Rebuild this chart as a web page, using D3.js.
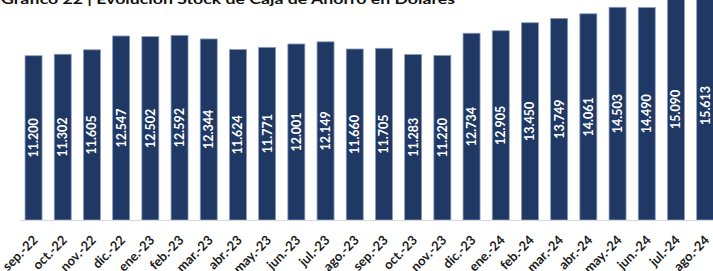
<!DOCTYPE html>
<html>
<head>
<meta charset="utf-8">
<script src="https://cdn.jsdelivr.net/npm/d3@7"></script>
<style>
  body { margin: 0; background: #fff; }
  svg { display: block; }
</style>
</head>
<body>
<svg width="713" height="271"></svg>
<script>
  const titleText = 'Gráfico 22 | Evolución Stock de Caja de Ahorro en Dólares';

  const months = [
    'sep.-22', 'oct.-22', 'nov.-22', 'dic.-22', 'ene.-23', 'feb.-23',
    'mar.-23', 'abr.-23', 'may.-23', 'jun.-23', 'jul.-23', 'ago.-23',
    'sep.-23', 'oct.-23', 'nov.-23', 'dic.-23', 'ene.-24', 'feb.-24',
    'mar.-24', 'abr.-24', 'may.-24', 'jun.-24', 'jul.-24', 'ago.-24'
  ];

  const stock = [
    11200, 11302, 11605, 12547, 12502, 12592,
    12344, 11624, 11771, 12001, 12149, 11660,
    11705, 11283, 11220, 12734, 12905, 13450,
    13749, 14061, 14503, 14490, 15090, 15613
  ];

  const svg = d3.select('svg');
  const baseY = 220;

  const locale = d3.formatLocale({ decimal: ',', thousands: '.', grouping: [3], currency: ['$', ''] });
  const fmt = locale.format(',d');

  const data = months.map((m, i) => ({ month: m, value: stock[i] }));

  const xScale = d3.scaleBand()
    .domain(months)
    .range([19.2, 719.5])
    .paddingInner(0.418)
    .paddingOuter(0.2);

  const yScale = d3.scaleLinear()
    .domain([0, 15000])
    .range([baseY, 0]);

  // title (partly cut at the top, as in the source)
  svg.append('text')
    .attr('x', 1)
    .attr('y', 4)
    .attr('font-family', 'Lato, "Liberation Sans", sans-serif')
    .attr('font-weight', 'bold')
    .attr('font-size', 14)
    .attr('fill', '#111')
    .attr('textLength', 454)
    .attr('lengthAdjust', 'spacingAndGlyphs')
    .text(titleText);

  const bars = svg.append('g').attr('class', 'bars');

  bars.selectAll('rect').data(data)
    .enter().append('rect')
      .attr('x', d => xScale(d.month))
      .attr('y', d => yScale(d.value))
      .attr('width', xScale.bandwidth())
      .attr('height', d => baseY - yScale(d.value))
      .attr('fill', '#203864')
      .attr('stroke', '#8c9dbb')
      .attr('stroke-width', 0.8);

  bars.selectAll('text').data(data)
    .enter().append('text')
      .attr('transform', d => {
        const cx = xScale(d.month) + xScale.bandwidth() / 2;
        const cy = (yScale(d.value) + baseY) / 2;
        return `translate(${cx},${cy}) rotate(-90)`;
      })
      .attr('text-anchor', 'middle')
      .attr('dy', '0.36em')
      .attr('font-family', 'Lato, "DejaVu Sans", sans-serif')
      .attr('font-weight', 'bold')
      .attr('font-size', 12.5)
      .attr('fill', '#fff')
      .text(d => fmt(d.value));

  const xAxis = d3.axisBottom(xScale).tickSize(0).tickPadding(0);

  const xAxisG = svg.append('g')
    .attr('class', 'x-axis')
    .attr('transform', `translate(0,${baseY})`)
    .call(xAxis);

  xAxisG.select('.domain')
    .attr('stroke', '#d9d9d9')
    .attr('d', `M19.5,0.5H713`);

  xAxisG.selectAll('.tick text')
    .attr('font-family', 'Lato, "Liberation Sans", sans-serif')
    .attr('font-weight', 'bold')
    .attr('font-size', 13)
    .attr('fill', '#1a1a1a')
    .attr('text-anchor', 'end')
    .attr('y', 0)
    .attr('dy', 0)
    .attr('transform', 'translate(5,21) rotate(-45)');
</script>
</body>
</html>
